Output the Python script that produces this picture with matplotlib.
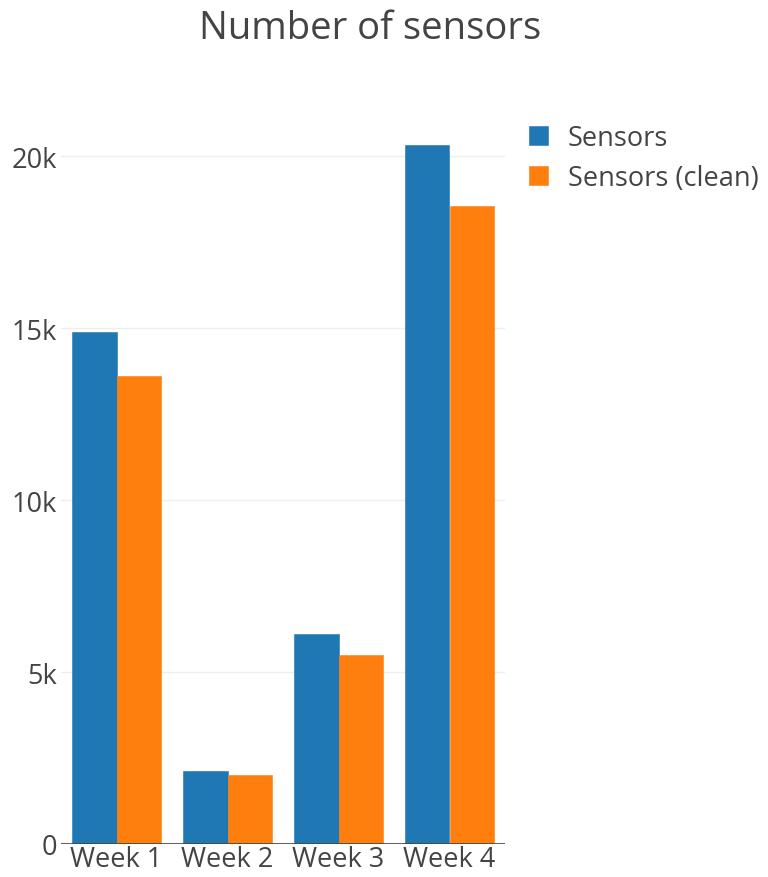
import matplotlib
matplotlib.use("Agg")
import matplotlib.pyplot as plt
import numpy as np
from matplotlib.ticker import FuncFormatter

plt.rcParams['font.family'] = ['Open Sans', 'DejaVu Sans']

categories = ["Week 1", "Week 2", "Week 3", "Week 4"]
sensors = [14880, 2120, 6100, 20320]
sensors_clean = [13600, 2010, 5490, 18540]
series_names = ["Sensors", "Sensors (clean)"]
colors = ["#1f77b4", "#ff7f0e"]
yticks = [0, 5000, 10000, 15000, 20000]

W, H = 768, 878
fig = plt.figure(figsize=(W / 100, H / 100), dpi=100)
left, right, top, bottom = 61, 505, 109, 845
ax = fig.add_axes([left / W, (H - bottom) / H, (right - left) / W, (bottom - top) / H])

x = np.arange(len(categories))
bw = 0.4
ax.bar(x - bw / 2, sensors, width=bw, color=colors[0], edgecolor=colors[0], lw=0.4,
       label=series_names[0], zorder=3)
ax.bar(x + bw / 2, sensors_clean, width=bw, color=colors[1], edgecolor=colors[1], lw=0.4,
       label=series_names[1], zorder=3)

ax.set_xlim(-0.5, len(categories) - 0.5)
ax.set_ylim(0, 21400)
ax.set_yticks(yticks)
ax.yaxis.set_major_formatter(FuncFormatter(lambda v, p: "0" if v == 0 else f"{int(v/1000)}k"))
ax.set_xticks(x)
ax.set_xticklabels(categories)

for s in ax.spines.values():
    s.set_visible(False)
ax.axhline(0, color="#444444", lw=1.2, zorder=4)
ax.grid(axis="y", color="#eeeeee", lw=1, zorder=0)
ax.tick_params(axis="both", length=0, labelsize=19.5, colors="#444444")
ax.tick_params(axis="y", pad=3)
ax.tick_params(axis="x", pad=1)

fig.text(370 / W, 1 - 29 / H, "Number of sensors", ha="center", va="center",
         fontsize=27.5, color="#444444")

leg = fig.legend(loc="upper left", bbox_to_anchor=(518 / W, 1 - 114 / H),
                 frameon=False, fontsize=19.5, handlelength=0.7, handleheight=0.7,
                 handletextpad=0.75, labelspacing=0.45, borderaxespad=0)
for t in leg.get_texts():
    t.set_color("#444444")

fig.savefig("out.png", dpi=100, facecolor="white")
